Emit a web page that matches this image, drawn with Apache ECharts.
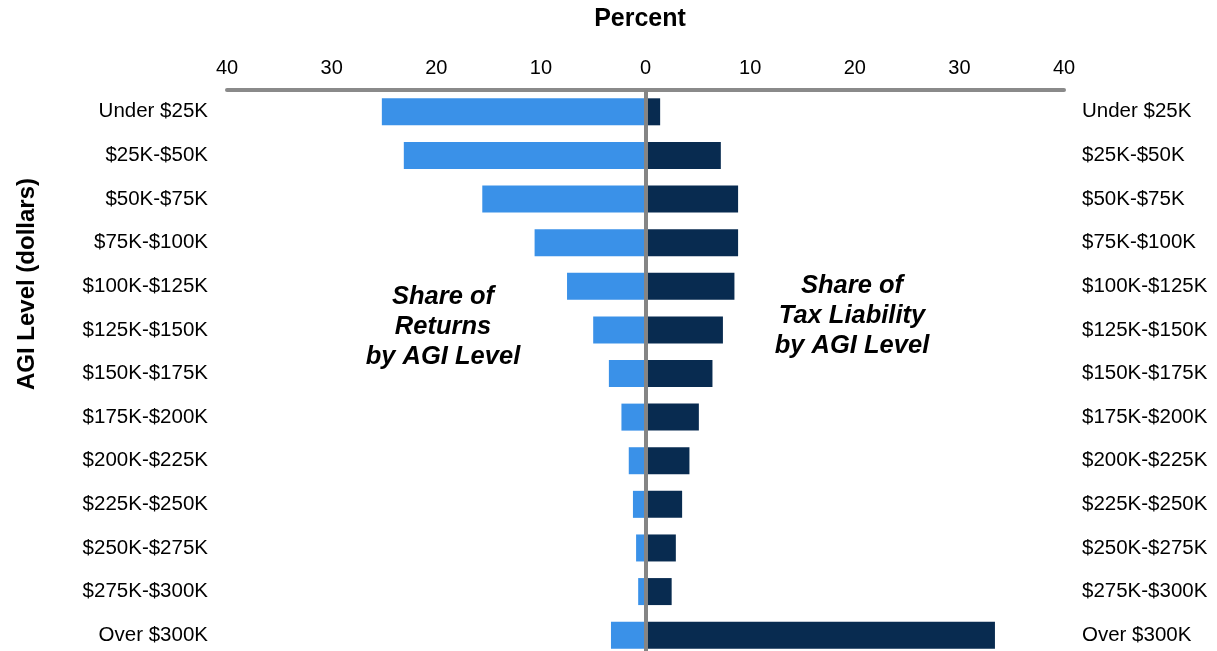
<!DOCTYPE html>
<html>
<head>
<meta charset="utf-8">
<script src="https://cdn.jsdelivr.net/npm/echarts@6/dist/echarts.min.js"></script>
<style>
html,body{margin:0;padding:0;background:#fff;}
#c{width:1217px;height:651px;}
</style>
</head>
<body>
<div id="c"></div>
<script>
const categories = ['Under $25K','$25K-$50K','$50K-$75K','$75K-$100K','$100K-$125K','$125K-$150K','$150K-$175K','$175K-$200K','$200K-$225K','$225K-$250K','$250K-$275K','$275K-$300K','Over $300K'];
const returnsShare = [25.2, 23.1, 15.6, 10.6, 7.5, 5.0, 3.5, 2.3, 1.6, 1.2, 0.9, 0.7, 3.3];
const taxShare = [1.4, 7.2, 8.85, 8.85, 8.5, 7.4, 6.4, 5.1, 4.2, 3.5, 2.9, 2.5, 33.4];
const xTicks = [40, 30, 20, 10, 0, 10, 20, 30, 40];

const chart = echarts.init(document.getElementById('c'), null, {renderer: 'canvas'});
const FONT = 'Liberation Sans, Arial, sans-serif';
chart.setOption({
  animation: false,
  backgroundColor: '#fff',
  grid: {left: 227, right: 153, top: 90, height: 567, containLabel: false, outerBoundsMode: 'none'},
  xAxis: {
    type: 'value', position: 'top', min: -40, max: 40, interval: 10,
    axisLine: {show: true, lineStyle: {color: '#8a8a8a', width: 4}},
    axisTick: {show: false},
    splitLine: {show: false},
    axisLabel: {fontFamily: FONT, fontSize: 20, color: '#000', margin: 12,
      formatter: v => String(xTicks[Math.round((v + 40) / 10)])}
  },
  yAxis: [{
    type: 'category', data: categories, inverse: true, position: 'left',
    axisLine: {show: false}, axisTick: {show: false},
    axisLabel: {fontFamily: FONT, fontSize: 20.5, color: '#000', margin: 19}
  }, {
    type: 'category', data: categories, inverse: true, position: 'right',
    axisLine: {show: false}, axisTick: {show: false},
    axisLabel: {fontFamily: FONT, fontSize: 20.5, color: '#000', margin: 18}
  }],
  series: [{
    name: 'Share of Returns', type: 'bar', yAxisIndex: 0,
    data: returnsShare.map(v => -v), barWidth: 27, barGap: '-100%',
    itemStyle: {color: '#3a91e8'}
  }, {
    name: 'Share of Tax Liability', type: 'bar', yAxisIndex: 0,
    data: taxShare, barWidth: 27, barGap: '-100%',
    itemStyle: {color: '#082b50'},
    markLine: {
      silent: true, symbol: 'none', label: {show: false},
      lineStyle: {color: '#858585', width: 4, type: 'solid'},
      data: [{xAxis: 0}]
    }
  }],
  graphic: [{
    type: 'text', x: 640, y: 19,
    style: {text: 'Percent', fontFamily: FONT, fontSize: 25, fontWeight: 'bold', fill: '#000',
      align: 'center', verticalAlign: 'middle'}
  }, {
    type: 'text', x: 27, y: 284, rotation: Math.PI / 2,
    style: {text: 'AGI Level (dollars)', fontFamily: FONT, fontSize: 24, fontWeight: 'bold', fill: '#000',
      align: 'center', verticalAlign: 'middle'}
  }, {
    type: 'text', x: 443, y: 327,
    style: {text: 'Share of\nReturns\nby AGI Level', fontFamily: FONT, fontSize: 25.5, fontWeight: 'bold', fontStyle: 'italic',
      fill: '#000', align: 'center', verticalAlign: 'middle', lineHeight: 30}
  }, {
    type: 'text', x: 852, y: 316,
    style: {text: 'Share of\nTax Liability\nby AGI Level', fontFamily: FONT, fontSize: 25.5, fontWeight: 'bold', fontStyle: 'italic',
      fill: '#000', align: 'center', verticalAlign: 'middle', lineHeight: 30}
  }]
});
</script>
</body>
</html>
